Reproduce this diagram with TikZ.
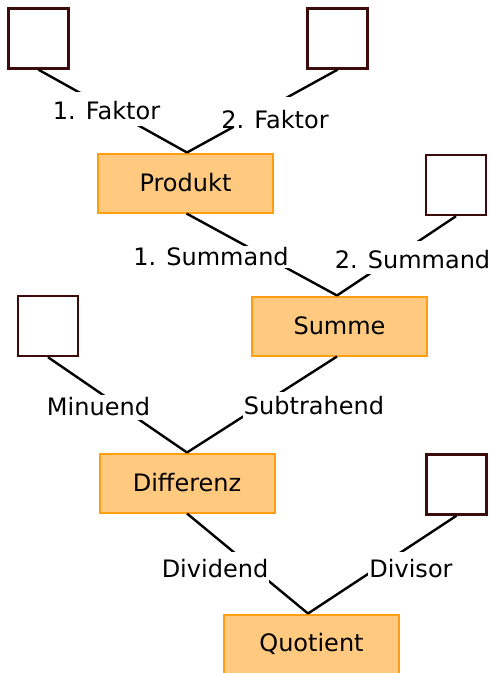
\documentclass[tikz,border=0pt]{standalone}
\usepackage{fontspec}
\setmainfont{DejaVu Sans}
\definecolor{boxfill}{RGB}{255,201,128}
\definecolor{boxdraw}{RGB}{255,158,16}
\definecolor{sqdraw}{RGB}{60,12,12}
\begin{document}
\begin{tikzpicture}[x=1pt,y=-1pt,
  font=\fontsize{24}{28}\selectfont,
  res/.style={draw=boxdraw, fill=boxfill, line width=2pt, minimum width=175pt, minimum height=59pt, inner sep=0pt},
  sq/.style={draw=sqdraw, line width=2.4pt, minimum size=60pt, inner sep=0pt},
  lbl/.style 2 args={fill=white, anchor=base, inner xsep=1pt, inner ysep=0pt, text height=#1pt, text depth=#2pt},
  conn/.style={line width=2.4pt, black}]
\useasboundingbox (0,0) rectangle (490,673);
% squares
\node[sq] (s1) at (38.5,38.5) {};
\node[sq] (s2) at (337.5,38.5) {};
\node[sq] (s3) at (456,185) {};
\node[sq] (s4) at (48,326) {};
\node[sq] (s5) at (456.5,484.5) {};
% result boxes
\node[res] (prod) at (185.5,183) {Produkt};
\node[res] (summe) at (339.5,326) {Summe};
\node[res] (diff) at (187,483) {Differenz};
\node[res] (quot) at (311.5,644) {Quotient};
% connectors (straight, interrupted by the labels)
\draw[conn] (s1.south) -- ([xshift=1.5pt]prod.north);
\draw[conn] (s2.south) -- ([xshift=1.5pt]prod.north);
\draw[conn] ([xshift=1pt]prod.south) -- ([xshift=-2.5pt]summe.north);
\draw[conn] (s3.south) -- ([xshift=-2.5pt]summe.north);
\draw[conn] (s4.south) -- (diff.north);
\draw[conn] ([xshift=-2.5pt]summe.south) -- (diff.north);
\draw[conn] (diff.south) -- ([xshift=-3.5pt]quot.north);
\draw[conn] (s5.south) -- ([xshift=-3.5pt]quot.north);
% labels
\node[lbl={27}{7}] (l1) at (106.5,119) {1. Faktor};
\node[lbl={31}{0}] (l2) at (275,128) {2. Faktor};
\node[lbl={19}{3}] (l3) at (211,265) {1. Summand};
\node[lbl={27}{6}] (l4) at (412.5,268) {2. Summand};
\node[lbl={20}{5}] (l5) at (98.5,415) {Minuend};
\node[lbl={22}{7}] (l6) at (314,414) {Subtrahend};
\node[lbl={25}{6}] (l7) at (215,577) {Dividend};
\node[lbl={25}{4}] (l8) at (411,577) {Divisor};
\end{tikzpicture}
\end{document}
